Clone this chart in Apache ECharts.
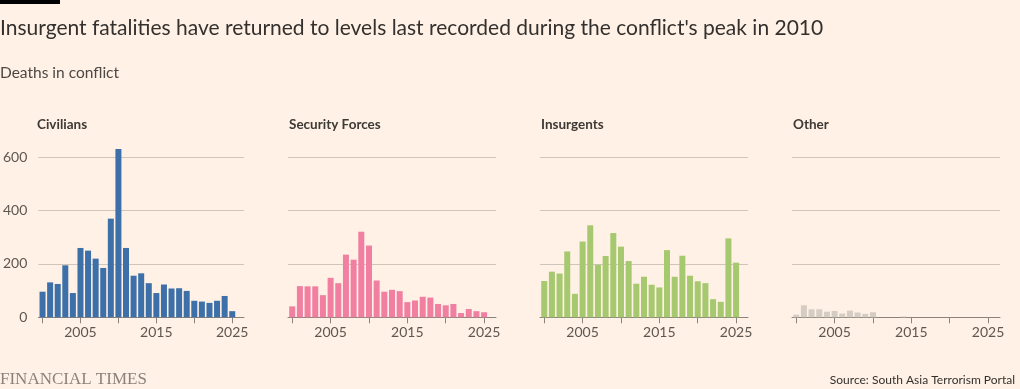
<!DOCTYPE html>
<html><head><meta charset="utf-8">
<script src="https://cdn.jsdelivr.net/npm/echarts@6/dist/echarts.min.js"></script>
<style>html,body{margin:0;padding:0;background:#fff1e5;}#c{width:1020px;height:389px;}</style>
</head><body><div id="c"></div>
<script>
const years = [2000,2001,2002,2003,2004,2005,2006,2007,2008,2009,2010,2011,2012,2013,2014,2015,2016,2017,2018,2019,2020,2021,2022,2023,2024,2025];
const civilians = [96,131,125,195,91,260,250,220,185,370,631,260,156,165,128,91,123,108,109,99,62,59,54,62,80,23];
const securityForces = [41,117,116,116,83,148,128,235,216,321,269,138,96,103,98,57,63,77,74,50,45,50,16,31,23,19];
const insurgents = [136,171,164,247,88,284,345,197,230,316,265,211,126,152,122,112,252,152,231,156,135,128,68,58,296,205];
const other = [10,45,30,30,21,24,14,25,18,13,19,0,0,0,3,0,0,0,0,0,0,0,0,0,0,0];
const panelTitles = ['Civilians','Security Forces','Insurgents','Other'];
const panelSeries = [civilians, securityForces, insurgents, other];
const panelColors = ['#3d6fa8','#f07fa1','#a6c86e','#d5ccc4'];
const yTicks = [0,200,400,600];
const xTickYears = [2000,2005,2010,2015,2020,2025];
const xLabelYears = [2005,2015,2025];

const FONT = 'Lato';
const chart = echarts.init(document.getElementById('c'), null, {renderer:'canvas'});
const grids = [], xAxes = [], yAxes = [], series = [], graphics = [];
const L0 = 36, STEP = 252, W = 208, TOP = 157.3, H = 160;
panelSeries.forEach((vals, i) => {
  grids.push({left: L0 + STEP*i, top: TOP, width: W, height: H, containLabel:false});
  xAxes.push({
    type:'value', gridIndex:i, min:1999.45, max:2026.55,
    axisLine:{show:true, onZero:false, lineStyle:{color:'#8c837b', width:1}},
    axisTick:{show:true, length:6, customValues:xTickYears, lineStyle:{color:'#8c837b'}},
    axisLabel:{show:true, customValues:xLabelYears, color:'#5e5751', fontFamily:FONT, fontSize:14, margin:8, formatter: v => String(v)},
    splitLine:{show:false}
  });
  yAxes.push({
    type:'value', gridIndex:i, min:0, max:600, interval:200,
    axisLine:{show:false}, axisTick:{show:false},
    axisLabel:{show:i===0, color:'#5e5751', fontFamily:FONT, fontSize:14, margin:11},
    splitLine:{show:true, lineStyle:{color:'#cfc5bb', width:1}}
  });
  series.push({
    type:'bar', xAxisIndex:i, yAxisIndex:i, clip:false, barWidth:6,
    itemStyle:{color:panelColors[i]},
    data: years.map((y, k) => [y, vals[k]]),
    silent:true, animation:false
  });
  graphics.push({type:'text', left: L0 + STEP*i + 1, top: 118,
    style:{text: panelTitles[i], fill:'#3d3935', font:'bold 13.5px ' + FONT}});
});
graphics.push({type:'rect', left:0, top:0, shape:{width:60, height:4}, style:{fill:'#000'}});
graphics.push({type:'text', left:0, top:18,
  style:{text:"Insurgent fatalities have returned to levels last recorded during the conflict's peak in 2010", fill:'#33302e', font:'21px ' + FONT}});
graphics.push({type:'text', left:0, top:65,
  style:{text:'Deaths in conflict', fill:'#4d4845', font:'15.5px ' + FONT}});
graphics.push({type:'text', left:0, top:371,
  style:{text:'FINANCIAL TIMES', fill:'#8a837d', font:'17px "Liberation Serif"'}});
graphics.push({type:'text', right:5, top:374,
  style:{text:'Source: South Asia Terrorism Portal', fill:'#33302e', font:'12px ' + FONT}});

chart.setOption({
  backgroundColor:'#fff1e5',
  animation:false,
  grid: grids, xAxis: xAxes, yAxis: yAxes, series: series,
  graphic: graphics
});
</script></body></html>
